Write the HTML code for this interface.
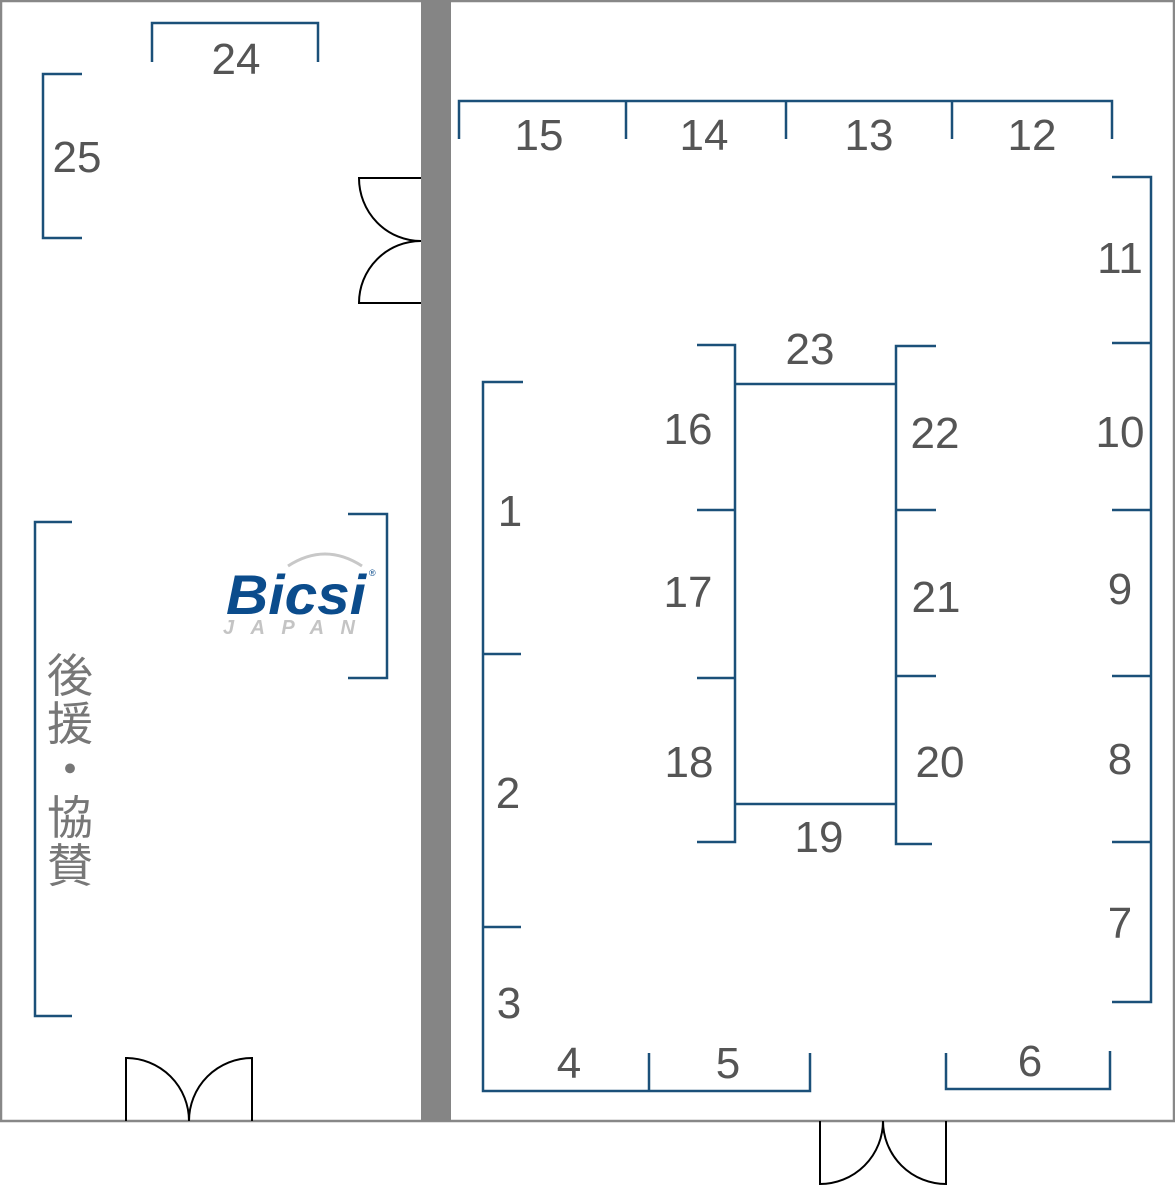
<!DOCTYPE html>
<html><head><meta charset="utf-8"><style>
html,body{margin:0;padding:0;background:#fff}
svg{display:block}
.b{fill:none;stroke:#1b5079;stroke-width:2.5}
.d{fill:none;stroke:#000;stroke-width:2}
.t{font-family:"Liberation Sans",sans-serif;font-size:44px;fill:#555;text-anchor:middle}
</style></head><body>
<svg width="1175" height="1185" viewBox="0 0 1175 1185">
<rect x="1" y="1" width="1173" height="1120" fill="none" stroke="#888" stroke-width="2.5"/>
<rect x="421" y="0" width="30" height="1121" fill="#858585"/>
<path class="d" d="M421,178 H359 A62,63 0 0 0 421,241 M421,303 H359 A62,62 0 0 1 421,241"/>
<path class="d" d="M126,1121 V1058 A63,63 0 0 1 189,1121 M252,1121 V1058 A63,63 0 0 0 189,1121"/>
<path class="d" d="M820,1121 V1184 A63,63 0 0 0 883,1121 M946,1121 V1184 A63,63 0 0 1 883,1121"/>
<path class="b" d="M152,62 V23 H318 V62"/>
<path class="b" d="M82,74 H43 V238 H82"/>
<path class="b" d="M459,139 V101 H1112 V139 M626,101 V139 M786,101 V139 M952,101 V139"/>
<path class="b" d="M1112,177 H1151 V1002 H1112 M1151,343 H1112 M1151,510 H1112 M1151,676 H1112 M1151,842 H1112"/>
<path class="b" d="M523,382 H483 V1091 H810 V1053 M483,654 H521 M483,927 H521 M649,1091 V1053"/>
<path class="b" d="M946,1053 V1089 H1110 V1051"/>
<path class="b" d="M697,345 H735 V842 H697 M735,510 H697 M735,678 H697 M735,384 H896 M735,804 H896"/>
<path class="b" d="M936,346 H896 V844 H932 M896,510 H936 M896,676 H936"/>
<path class="b" d="M72,522 H35 V1016 H72"/>
<path class="b" d="M348,514 H387 V678 H348"/>
<g class="t">
<text x="236" y="74">24</text>
<text x="77" y="172">25</text>
<text x="539" y="150">15</text>
<text x="704" y="150">14</text>
<text x="869" y="150">13</text>
<text x="1032" y="150">12</text>
<text x="1120" y="273">11</text>
<text x="1120" y="447">10</text>
<text x="1120" y="604">9</text>
<text x="1120" y="774">8</text>
<text x="1120" y="938">7</text>
<text x="1030" y="1076">6</text>
<text x="728" y="1078">5</text>
<text x="569" y="1078">4</text>
<text x="509" y="1018">3</text>
<text x="508" y="808">2</text>
<text x="510" y="526">1</text>
<text x="810" y="364">23</text>
<text x="688" y="444">16</text>
<text x="688" y="607">17</text>
<text x="689" y="777">18</text>
<text x="819" y="852">19</text>
<text x="935" y="448">22</text>
<text x="936" y="612">21</text>
<text x="940" y="777">20</text>
</g>
<g font-family="'Liberation Sans','Noto Sans CJK JP',sans-serif" font-size="46" fill="#777" text-anchor="middle">
<text x="70" y="692">後</text>
<text x="70" y="740">援</text>
<text x="70" y="786">・</text>
<text x="70" y="834">協</text>
<text x="70" y="882">賛</text>
</g>
<path d="M288,566 Q325,542 362,566" fill="none" stroke="#c8c8c8" stroke-width="3"/>
<text x="226" y="614" font-family="'Liberation Sans',sans-serif" font-weight="bold" font-style="italic" font-size="56" fill="#0b4c8c" textLength="140" lengthAdjust="spacingAndGlyphs">Bicsi</text>
<text x="369" y="576" font-family="'Liberation Sans',sans-serif" font-size="9" fill="#0b4c8c">®</text>
<text x="223" y="634" font-family="'Liberation Sans',sans-serif" font-weight="bold" font-style="italic" font-size="20" fill="#c4c4c4" textLength="132" lengthAdjust="spacing">JAPAN</text>
</svg>
</body></html>
